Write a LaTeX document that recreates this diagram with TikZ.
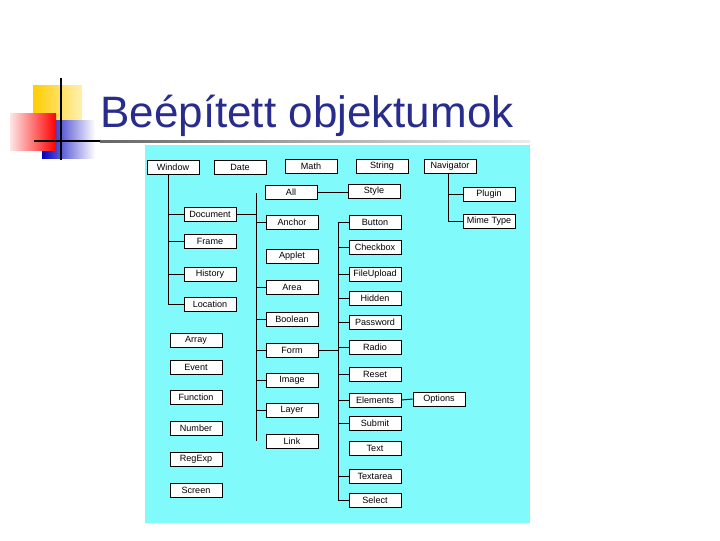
\documentclass[tikz,border=0pt]{standalone}
\usepackage{fontspec}
\setmainfont{Liberation Sans}
\definecolor{panel}{RGB}{128,250,250}
\definecolor{titleblue}{RGB}{40,44,140}
\definecolor{logoyellow}{RGB}{255,205,0}
\begin{document}
\begin{tikzpicture}[x=0.75pt,y=-0.75pt,
  box/.style={draw=black,fill=white,line width=0.6pt,minimum width=39pt,minimum height=10.5pt,inner sep=0pt,font=\fontsize{6.8}{7}\selectfont},
  conn/.style={draw=black,line width=0.7pt}]
\useasboundingbox (0,0) rectangle (720,540);
\fill[white] (0,0) rectangle (720,540);
% logo
\shade[left color=logoyellow,right color=logoyellow!30] (33,85) rectangle (82,133);
\shade[left color=blue!75!black,right color=white] (42,120) rectangle (95,158);
\shade[left color=red!10,right color=red] (10,113) rectangle (56,150);
\draw[line width=1.6pt] (61,78) -- (61,160);
\draw[line width=1.4pt] (34,141) -- (120,141);
\shade[left color=gray!80!black,right color=gray!15] (100,140) rectangle (530,142.5);
\node[anchor=base west,text=titleblue,font=\fontsize{33}{33}\selectfont,inner sep=0] (title) at (100,127) {Beépített objektumok};
% panel
\fill[panel] (145,145) rectangle (530,523);
% boxes
\node[box] (window) at (173,167) {Window};
\node[box] (date) at (240,167) {Date};
\node[box] (math) at (311,166) {Math};
\node[box] (string) at (382,166) {String};
\node[box] (navigator) at (450,166) {Navigator};
\node[box] (all) at (291,192) {All};
\node[box] (style) at (374,191) {Style};
\node[box] (plugin) at (489,194) {Plugin};
\node[box] (mime) at (489,221) {Mime Type};
\node[box] (document) at (210,214) {Document};
\node[box] (frame) at (210,241) {Frame};
\node[box] (history) at (210,274) {History};
\node[box] (location) at (210,304) {Location};
\node[box] (anchor) at (292,222) {Anchor};
\node[box] (applet) at (292,256) {Applet};
\node[box] (area) at (292,287) {Area};
\node[box] (boolean) at (292,319) {Boolean};
\node[box] (form) at (292,350) {Form};
\node[box] (image) at (292,380) {Image};
\node[box] (layer) at (292,410) {Layer};
\node[box] (link) at (292,441) {Link};
\node[box] (button) at (375,222) {Button};
\node[box] (checkbox) at (375,247) {Checkbox};
\node[box] (fileupload) at (375,274) {FileUpload};
\node[box] (hidden) at (375,298) {Hidden};
\node[box] (password) at (375,322) {Password};
\node[box] (radio) at (375,347) {Radio};
\node[box] (reset) at (375,374) {Reset};
\node[box] (elements) at (375,400) {Elements};
\node[box] (options) at (439,399) {Options};
\node[box] (submit) at (375,423) {Submit};
\node[box] (text) at (375,448) {Text};
\node[box] (textarea) at (375,476) {Textarea};
\node[box] (select) at (375,500) {Select};
\node[box] (array) at (196,340) {Array};
\node[box] (event) at (196,367) {Event};
\node[box] (function) at (196,397) {Function};
\node[box] (number) at (196,428) {Number};
\node[box] (regexp) at (196,459) {RegExp};
\node[box] (screen) at (196,490) {Screen};
% coordinates for trunks
\coordinate (wtop) at (168,173);
\coordinate (wbot) at (168,304);
\coordinate (ltop) at (256,193);
\coordinate (lbot) at (256,441);
\coordinate (rtop) at (338,222);
\coordinate (rbot) at (338,500);
\coordinate (ntop) at (448,173);
\coordinate (nbot) at (448,221);
% window tree
\draw[conn] (window.south -| wtop) -- (wbot);
\foreach \n in {document,frame,history,location} \draw[conn] (\n.west) -- (\n.west -| wtop);
% left trunk
\draw[conn] (ltop) -- (lbot);
\draw[conn] (document.east) -- (document.east -| ltop);
\foreach \n in {anchor,area,boolean,form,image,layer} \draw[conn] (\n.west) -- (\n.west -| ltop);
% right trunk
\draw[conn] (rtop) -- (rbot);
\draw[conn] (form.east) -- (form.east -| rtop);
\foreach \n in {button,checkbox,fileupload,hidden,password,radio,reset,elements,submit,textarea,select} \draw[conn] (\n.west) -- (\n.west -| rtop);
\draw[conn] (elements.east) -- (options.west);
\draw[conn] (all.east) -- (style.west |- all.east);
% navigator
\draw[conn] (navigator.south -| ntop) -- (nbot);
\foreach \n in {plugin,mime} \draw[conn] (\n.west) -- (\n.west -| ntop);
\end{tikzpicture}
\end{document}
